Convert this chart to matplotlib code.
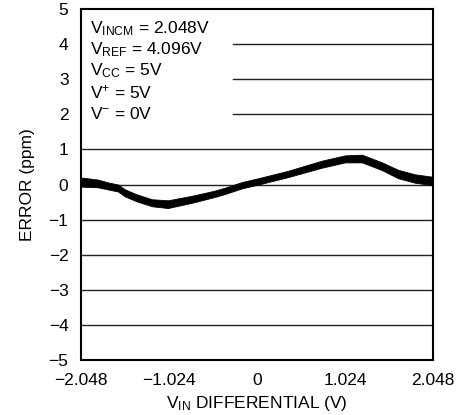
import matplotlib
matplotlib.use("Agg")
import matplotlib.pyplot as plt
from matplotlib import font_manager

# font: narrow Helvetica-like look if available
names = {f.name for f in font_manager.fontManager.ttflist}
family = "Liberation Sans Narrow" if "Liberation Sans Narrow" in names else "Liberation Sans"
plt.rcParams['font.family'] = [family, 'DejaVu Sans']
plt.rcParams['mathtext.default'] = 'regular'

# values (center of the noisy trace and its half-thickness)
vin = [-2.048, -1.85, -1.734, -1.617, -1.536, -1.40, -1.222, -1.036, -0.756, -0.50,
       -0.372, -0.175, 0.0, 0.36, 0.756, 1.024, 1.222, 1.455, 1.641, 1.839, 2.048]
err = [0.07, 0.03, -0.04, -0.10, -0.24, -0.38, -0.52, -0.56, -0.42, -0.27,
       -0.18, -0.02, 0.08, 0.30, 0.58, 0.73, 0.74, 0.52, 0.30, 0.17, 0.10]
spread = [0.13, 0.11, 0.10, 0.10, 0.10, 0.10, 0.10, 0.11, 0.10, 0.09,
          0.09, 0.09, 0.09, 0.09, 0.10, 0.10, 0.11, 0.11, 0.12, 0.12, 0.12]

xticks = [-2.048, -1.024, 0, 1.024, 2.048]
xticklabels = ['\u22122.048', '\u22121.024', '0', '1.024', '2.048']
yticks = [-5, -4, -3, -2, -1, 0, 1, 2, 3, 4, 5]

conditions = ['$V_{INCM}$ = 2.048V', '$V_{REF}$ = 4.096V', '$V_{CC}$ = 5V',
              '$V^{+}$ = 5V', '$V^{-}$ = 0V']

fig = plt.figure(figsize=(4.69, 4.15), dpi=100)
ax = fig.add_axes([0.1727, 0.1325, 0.7505, 0.8458])

# grid lines: the upper ones stop where the condition text starts
for y in yticks[1:-1]:
    if y >= 2:
        ax.axhline(y, xmin=0.432, xmax=1, color='#222222', lw=1.0)
    else:
        ax.axhline(y, color='#222222', lw=1.0)

lower = [c - s for c, s in zip(err, spread)]
upper = [c + s for c, s in zip(err, spread)]
ax.fill_between(vin, lower, upper, color='black', lw=0.6, zorder=3)

ax.set_xlim(-2.048, 2.048)
ax.set_ylim(-5, 5)
ax.set_xticks(xticks)
ax.set_xticklabels(xticklabels)
ax.set_yticks(yticks)
ax.set_yticklabels([str(t).replace('-', '\u2212') for t in yticks])
ax.tick_params(length=0, labelsize=12.5)
ax.tick_params(axis='x', pad=9)
ax.tick_params(axis='y', pad=9)
for sp in ax.spines.values():
    sp.set_linewidth(1.5)

ax.set_xlabel('$V_{IN}$ DIFFERENTIAL (V)', fontsize=12.5, labelpad=5)
ax.set_ylabel('ERROR (ppm)', fontsize=12.5, labelpad=10)

for i, txt in enumerate(conditions):
    ax.text(0.025, 0.945 - i * 0.061, txt, transform=ax.transAxes,
            fontsize=12.5, va='center', ha='left')

fig.savefig('out.png', dpi=100)
